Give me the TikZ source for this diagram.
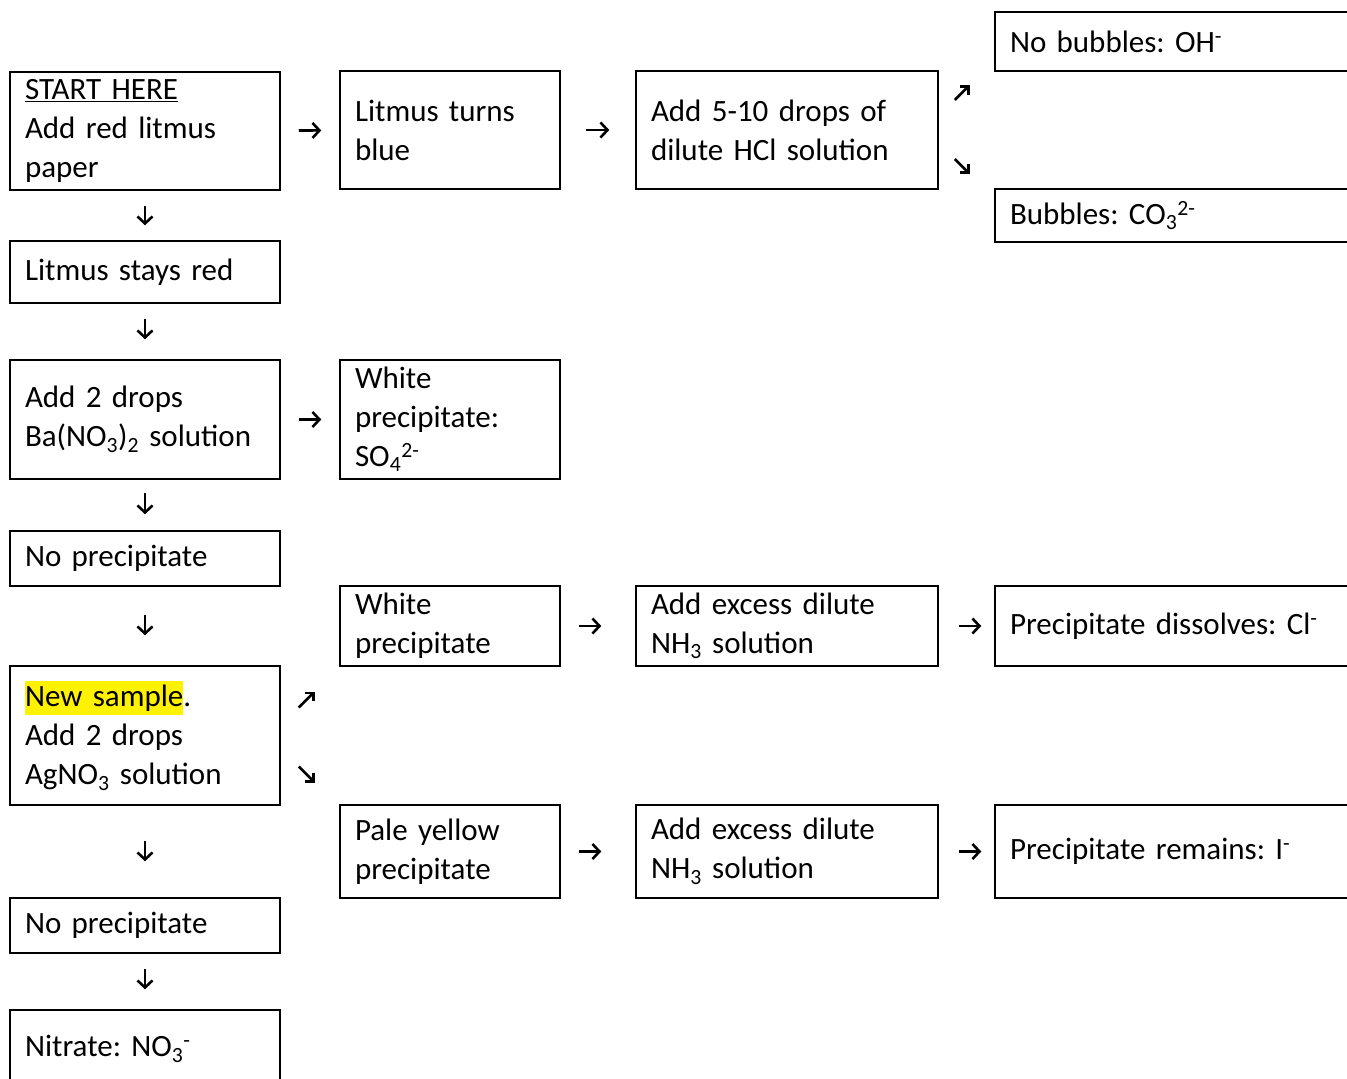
\documentclass[tikz,border=0pt]{standalone}
\usepackage{fontspec}
\setmainfont{Carlito}
\frenchspacing
\usetikzlibrary{arrows.meta}
\tikzset{
  box/.style={draw, line width=1.5pt, inner xsep=15pt, inner ysep=0pt, text width=#1, align=left,
    font=\fontsize{31}{39}\selectfont},
  arr/.style={-{Straight Barb[length=7pt,width=15pt]}, line width=2.6pt},
  slant/.style={-{Straight Barb[length=6pt,width=12pt]}, line width=2.6pt},
}
\newcommand{\hilite}[1]{{\setlength{\fboxsep}{0pt}\colorbox{yellow}{\rule[-8pt]{0pt}{34pt}#1}}}
\begin{document}
\begin{tikzpicture}[x=1pt,y=-1pt]
  \useasboundingbox (0,0) rectangle (1347,1079);
  \clip (0,0) rectangle (1347,1079);
  % first row
  \node[box=240pt, minimum height=118pt] (start) at (145,131) {\underline{START HERE}\\Add red litmus\\paper};
  \node[box=190pt, minimum height=118pt] (turns) at (450,130) {Litmus turns\\blue};
  \node[box=272pt, minimum height=118pt] (hcl) at (787,130) {Add 5-10 drops of\\dilute HCl solution};
  \node[box=340pt, minimum height=59pt] (nobub) at (1180,41.5) {No bubbles: OH\textsuperscript{-}};
  \node[box=340pt, minimum height=53pt] (bub) at (1180,215.5) {Bubbles: CO\textsubscript{3}\textsuperscript{2-}};
  % left column
  \node[box=240pt, minimum height=62pt] (stays) at (145,272) {Litmus stays red};
  \node[box=240pt, minimum height=119pt] (ba) at (145,419.5) {Add 2 drops\\Ba(NO\textsubscript{3})\textsubscript{2} solution};
  \node[box=190pt, minimum height=119pt] (sulf) at (450,419.5) {White\\precipitate:\\SO\textsubscript{4}\textsuperscript{2-}};
  \node[box=240pt, minimum height=55pt] (noppt) at (145,558.5) {No precipitate};
  \node[box=240pt, minimum height=139pt] (silver) at (145,735.5) {\hilite{New sample}.\\Add 2 drops\\AgNO\textsubscript{3} solution};
  \node[box=240pt, minimum height=55pt] (nopptb) at (145,925.5) {No precipitate};
  \node[box=240pt, minimum height=78pt] (nitrate) at (145,1049) {Nitrate: NO\textsubscript{3}\textsuperscript{-}};
  % halides
  \node[box=190pt, minimum height=80pt] (white) at (450,626) {White\\precipitate};
  \node[box=272pt, minimum height=80pt] (ammw) at (787,626) {Add excess dilute\\NH\textsubscript{3} solution};
  \node[box=340pt, minimum height=80pt] (chl) at (1180,626) {Precipitate dissolves: Cl\textsuperscript{-}};
  \node[box=190pt, minimum height=93pt] (pale) at (450,851.5) {Pale yellow\\precipitate};
  \node[box=272pt, minimum height=93pt] (ammy) at (787,851.5) {Add excess dilute\\NH\textsubscript{3} solution};
  \node[box=340pt, minimum height=93pt] (iod) at (1180,851.5) {Precipitate remains: I\textsuperscript{-}};
  % arrows
  \draw[arr, shorten <=18pt, shorten >=18pt] (start) -- (turns);
  \draw[arr, shorten <=25pt, shorten >=26pt] (turns) -- (hcl);
  \draw[arr, shorten <=15pt, shorten >=15pt] (start) -- (stays);
  \draw[arr, shorten <=15pt, shorten >=20pt] (stays) -- (ba);
  \draw[arr, shorten <=18pt, shorten >=18pt] (ba) -- (sulf);
  \draw[arr, shorten <=13pt, shorten >=16pt] (ba) -- (noppt);
  \draw[arr, shorten <=28pt, shorten >=30pt] (noppt) -- (silver);
  \draw[arr, shorten <=35pt, shorten >=36pt] (silver) -- (nopptb);
  \draw[arr, shorten <=15pt, shorten >=20pt] (nopptb) -- (nitrate);
  \draw[arr, shorten <=18pt, shorten >=34pt] (white) -- (ammw);
  \draw[arr, shorten <=20pt, shorten >=13pt] (ammw) -- (chl);
  \draw[arr, shorten <=18pt, shorten >=34pt] (pale) -- (ammy);
  \draw[arr, shorten <=20pt, shorten >=13pt] (ammy) -- (iod);
  % slanted arrows
  \coordinate (hclup) at ([shift={(16,29)}]hcl.east);
  \coordinate (hclupend) at ([shift={(31,44)}]hcl.east);
  \coordinate (hcldn) at ([shift={(16,-30)}]hcl.east);
  \coordinate (hcldnend) at ([shift={(31,-45)}]hcl.east);
  \draw[slant] (hclup) -- (hclupend);
  \draw[slant] (hcldn) -- (hcldnend);
  \coordinate (agup) at ([shift={(18,31)}]silver.east);
  \coordinate (agupend) at ([shift={(34,47)}]silver.east);
  \coordinate (agdn) at ([shift={(18,-28)}]silver.east);
  \coordinate (agdnend) at ([shift={(34,-44)}]silver.east);
  \draw[slant] (agup) -- (agupend);
  \draw[slant] (agdn) -- (agdnend);
\end{tikzpicture}
\end{document}
